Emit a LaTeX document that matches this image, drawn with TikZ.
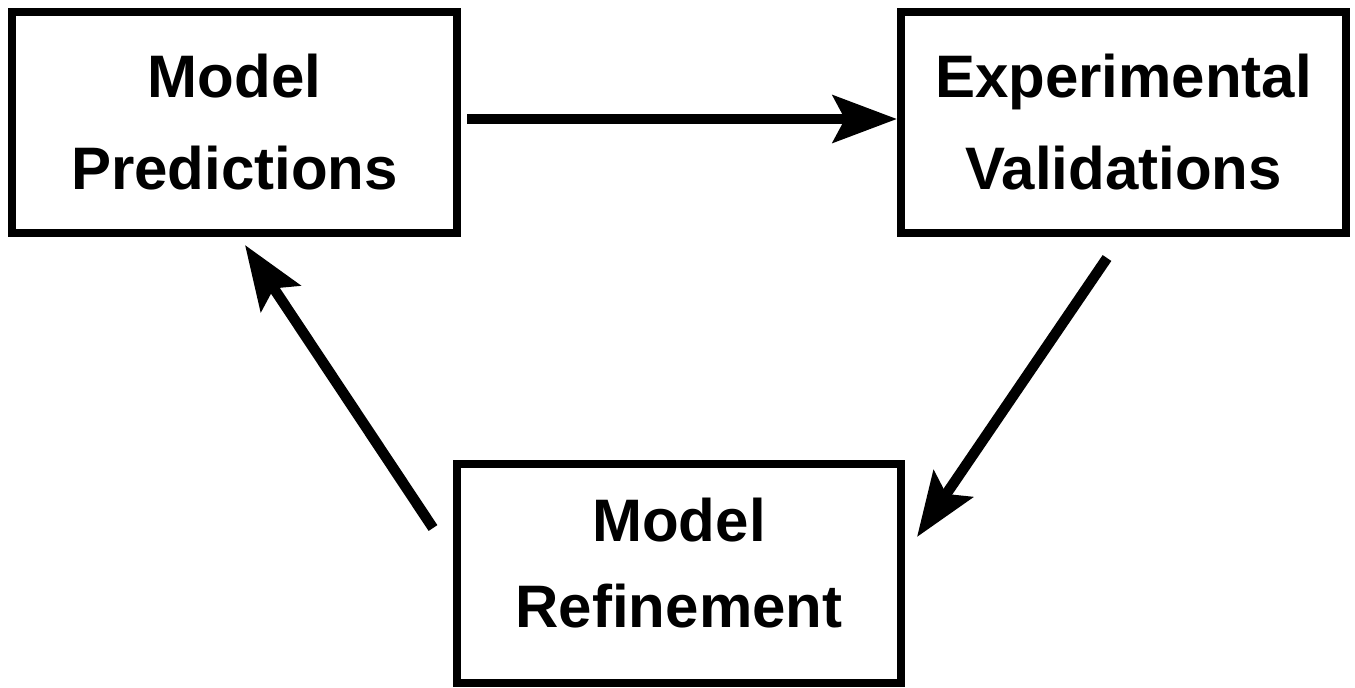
\documentclass[tikz,border=0pt]{standalone}
\usepackage{fontspec}
\setmainfont{Liberation Sans}
\usetikzlibrary{arrows.meta}
\begin{document}
\begin{tikzpicture}[x=1pt,y=-1pt,
  box/.style={draw=black, line width=8.5pt, fill=white, outer sep=0pt, inner sep=0pt,
    minimum width=445pt, minimum height=221pt, align=center, font=\bfseries\fontsize{60}{92}\selectfont},
  arr/.style={line width=10.5pt, -{Stealth[length=64pt, width=47pt, inset=12pt]}}]
\useasboundingbox[fill=white] (0,0) rectangle (1355,688);
\node[box] (b1) at (234.5,122.5) {Model\\Predictions};
\node[box] (b2) at (1123.5,122.5) {Experimental\\Validations};
\node[box, minimum width=444pt, minimum height=219pt, text depth=22pt,
  font=\bfseries\fontsize{60}{86}\selectfont] (b3) at (679,573.5) {Model\\Refinement};
\draw[arr] ([xshift=10pt,yshift=3.5pt]b1.east) -- ([xshift=-4pt,yshift=3.5pt]b2.west);
\draw[arr] ([xshift=-16.5pt,yshift=-25pt]b2.south) -- ([xshift=16pt,yshift=36.5pt]b3.east);
\draw[arr] ([xshift=-24pt,yshift=45.5pt]b3.west) -- ([xshift=10.5pt,yshift=-12pt]b1.south);
\end{tikzpicture}
\end{document}
